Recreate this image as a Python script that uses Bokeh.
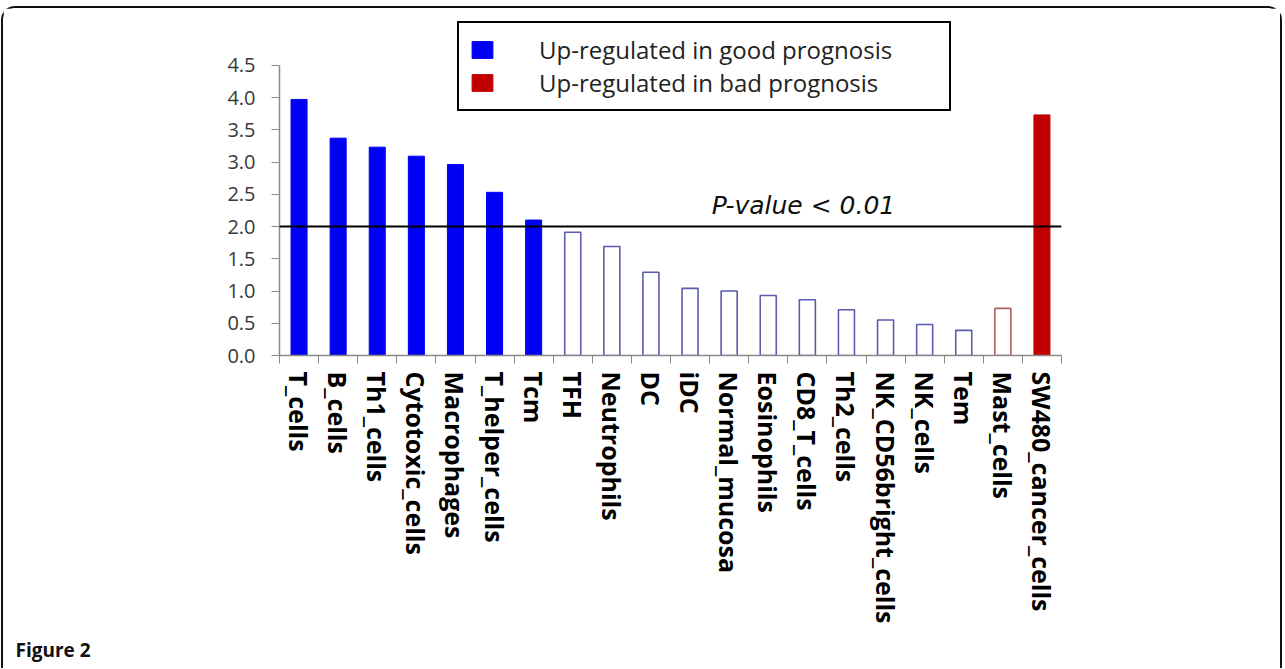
import numpy as np
from bokeh.plotting import figure
from bokeh.models import (Range1d, FixedTicker, SingleIntervalTicker, PrintfTickFormatter,
                          Span, Label, Legend, LegendItem, ColumnDataSource)
from bokeh.embed import file_html
from bokeh.resources import INLINE

# ---------------- data ----------------
categories = ["T_cells", "B_cells", "Th1_cells", "Cytotoxic_cells", "Macrophages",
              "T_helper_cells", "Tcm", "TFH", "Neutrophils", "DC", "iDC",
              "Normal_mucosa", "Eosinophils", "CD8_T_cells", "Th2_cells",
              "NK_CD56bright_cells", "NK_cells", "Tem", "Mast_cells",
              "SW480_cancer_cells"]
values = [3.97, 3.37, 3.23, 3.09, 2.96, 2.53, 2.10, 1.91, 1.69, 1.29, 1.04,
          1.00, 0.93, 0.865, 0.71, 0.55, 0.48, 0.39, 0.73, 3.73]
direction = ["good"] * 18 + ["bad"] * 2
threshold = 2.0
y_ticks_step = 0.5
y_max = 4.5
legend_labels = ["Up-regulated in good prognosis", "Up-regulated in bad prognosis"]
threshold_label = "P-value < 0.01"
figure_label = "Figure 2"

# ---------------- figure ----------------
W, H = 1281, 662
n = len(categories)
centers = [i + 0.5 for i in range(n)]

p = figure(width=W, height=H, output_backend="svg", toolbar_location=None,
           x_range=Range1d(0, n), y_range=Range1d(0, 5.38),
           title=figure_label, title_location="below",
           min_border_left=276, min_border_right=W - 4 - 1054,
           min_border_top=0, min_border_bottom=312)
p.outline_line_color = None
p.xgrid.visible = False
p.ygrid.visible = False
p.background_fill_color = "white"
p.border_fill_color = "white"
p.styles = {"border": "2px solid #111", "border-bottom": "none",
            "border-radius": "14px 14px 0 0",
            "box-sizing": "border-box", "margin-left": "1px", "margin-top": "6px"}

p.title.align = "left"
p.title.offset = -264
p.title.standoff = 16
p.title.text_font = "Open Sans"
p.title.text_font_style = "bold"
p.title.text_font_size = "19px"
p.title.text_color = "#111111"


def subset(dir_, sig):
    xs, tops = [], []
    for c, v, d in zip(centers, values, direction):
        if d == dir_ and (v > threshold) == sig:
            xs.append(c)
            tops.append(v)
    return ColumnDataSource(dict(x=xs, top=tops))


bw = 0.41
r_good = p.vbar(x="x", top="top", width=bw, bottom=0, source=subset("good", True),
                fill_color="#0000f5", line_color="#0000f5", line_width=1)
r_bad = p.vbar(x="x", top="top", width=bw, bottom=0, source=subset("bad", True),
               fill_color="#c00000", line_color="#c00000", line_width=1)
p.vbar(x="x", top="top", width=bw, bottom=0, source=subset("good", False),
       fill_color="white", line_color="#5b5bb0", line_width=1.6)
p.vbar(x="x", top="top", width=bw, bottom=0, source=subset("bad", False),
       fill_color="white", line_color="#b06060", line_width=1.6)

p.add_layout(Span(location=threshold, dimension="width", line_color="black", line_width=2))

# P-value label above the threshold line
p.add_layout(Label(x=13.4, y=threshold, y_offset=21, text=threshold_label,
                   text_align="center", text_baseline="alphabetic",
                   text_font="DejaVu Sans", text_font_style="italic",
                   text_font_size="25px", text_color="#111"))

# y axis
ya = p.yaxis[0]
ya.bounds = (0, y_max)
ya.ticker = SingleIntervalTicker(interval=y_ticks_step)
ya.formatter = PrintfTickFormatter(format="%.1f")
ya.minor_tick_line_color = None
ya.major_tick_out = 8
ya.major_tick_in = 0
ya.axis_line_color = "#8a8a8a"
ya.major_tick_line_color = "#8a8a8a"
ya.axis_line_width = 1.5
ya.major_label_text_font = "Open Sans"
ya.major_label_text_font_size = "20px"
ya.major_label_text_color = "#383838"
ya.major_label_standoff = 16

# x axis
xa = p.xaxis[0]
xa.ticker = FixedTicker(ticks=centers, minor_ticks=list(range(n + 1)))
xa.major_label_overrides = {c: name for c, name in zip(centers, categories)}
xa.major_label_orientation = "vertical"
xa.major_tick_line_color = None
xa.minor_tick_out = 8
xa.minor_tick_in = 0
xa.minor_tick_line_color = "#8a8a8a"
xa.axis_line_color = "#8a8a8a"
xa.axis_line_width = 1.5
xa.major_label_text_font = "Open Sans"
xa.major_label_text_font_style = "bold"
xa.major_label_text_font_size = "25px"
xa.major_label_text_color = "#000000"
xa.major_label_standoff = 8

# legend
legend = Legend(items=[LegendItem(label=legend_labels[0], renderers=[r_good]),
                       LegendItem(label=legend_labels[1], renderers=[r_bad])],
                location=(178, 244), orientation="vertical",
                border_line_color="black", border_line_width=2, border_line_alpha=1.0,
                background_fill_color="white", background_fill_alpha=1,
                glyph_width=26, glyph_height=21, label_standoff=44,
                label_width=400, label_height=30, padding=10, spacing=0, margin=0,
                label_text_font="Open Sans", label_text_font_size="24px",
                label_text_color="#222222")
p.add_layout(legend, "center")

open("out.html", "w").write(file_html(p, INLINE))
